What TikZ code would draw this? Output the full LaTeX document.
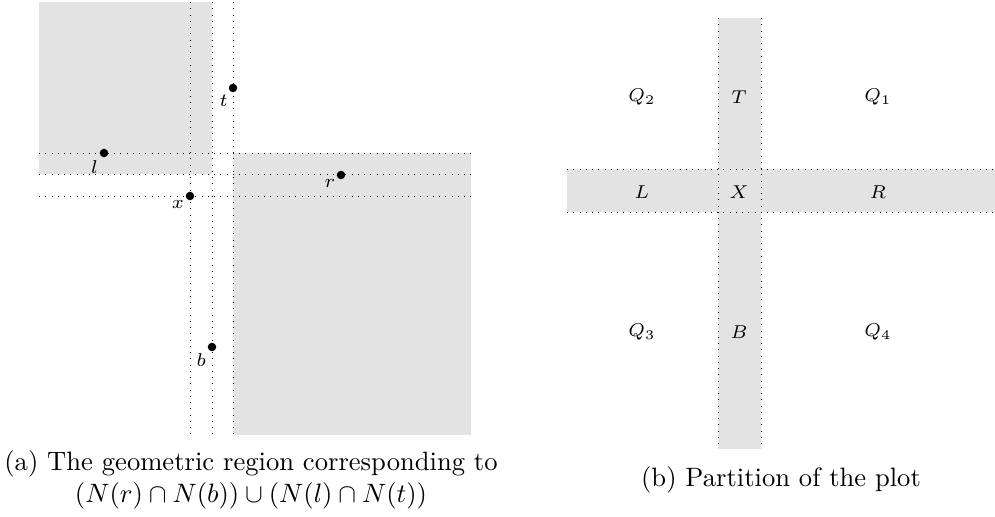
\documentclass[tikz,border=0pt]{standalone}
\usepackage{amsmath,amssymb}
\usepackage{tikz}
\usetikzlibrary{positioning}

\begin{document}
\begin{tikzpicture}[
  x=0.01322cm,y=-0.01322cm,
  font=\scriptsize,
  region/.style={fill=regGray,draw=none},
  guide/.style={dotted,line width=0.35pt},
  pt/.style={circle,fill=black,inner sep=0pt,minimum size=3.2pt},
  lbl/.style={font=\scriptsize,inner sep=1pt},
  capnote/.style={font=\normalsize,align=center},
]
\definecolor{regGray}{HTML}{E3E3E3}
\useasboundingbox (0,0) rectangle (995,516);

% (a) region N(r)nN(b) u N(l)nN(t)
\fill[region] (39,2) rectangle (212,174);
\fill[region] (233,153) rectangle (471,435);
\foreach \yy in {153,174,196} \draw[guide] (39,\yy) -- (471,\yy);
\foreach \xx in {190,212,233} \draw[guide] (\xx,2) -- (\xx,435);

\node[pt] (l) at (104,153) {};
\node[pt] (t) at (233,88) {};
\node[pt] (r) at (341,175) {};
\node[pt] (x) at (190,196) {};
\node[pt] (b) at (212,347) {};
\node[lbl,below left=0.2pt and -0.2pt of l] (lLab) {$l$};
\node[lbl,below left=0.2pt and -0.5pt of t] (tLab) {$t$};
\node[lbl,below left=-0.8pt and -0.2pt of r] (rLab) {$r$};
\node[lbl,below left=-0.8pt and -0.2pt of x] (xLab) {$x$};
\node[lbl,below left=0pt and -0.2pt of b] (bLab) {$b$};

\node[capnote] (capA) at (251,480) {(a) The geometric region corresponding to\\$(N(r)\cap N(b))\cup(N(l)\cap N(t))$};

% (b) partition
\fill[region] (718,18) rectangle (761,449);
\fill[region] (567,169) rectangle (995,212);
\foreach \xx in {718,761} \draw[guide] (\xx,18) -- (\xx,449);
\foreach \yy in {169,212} \draw[guide] (567,\yy) -- (995,\yy);

\node[lbl] (Q2) at (642,97) {$Q_2$};
\node[lbl] (T) at (739,97) {$T$};
\node[lbl] (Q1) at (878,97) {$Q_1$};
\node[lbl] (L) at (642,192) {$L$};
\node[lbl] (X) at (739,192) {$X$};
\node[lbl] (R) at (878,192) {$R$};
\node[lbl] (Q3) at (642,332) {$Q_3$};
\node[lbl] (B) at (739,332) {$B$};
\node[lbl] (Q4) at (878,332) {$Q_4$};

\node[capnote] (capB) at (781,480) {(b) Partition of the plot};
\end{tikzpicture}
\end{document}
